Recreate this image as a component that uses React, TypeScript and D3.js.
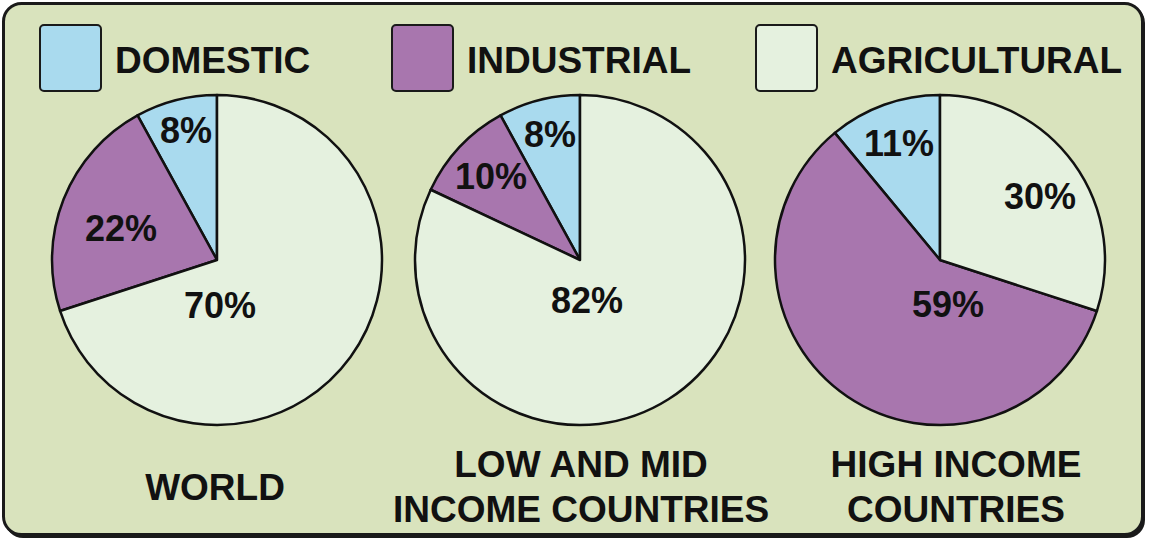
import React from "react";
import * as d3 from "d3";

const categories = ["DOMESTIC", "INDUSTRIAL", "AGRICULTURAL"];
const colors = ["#a9daee", "#a876ae", "#e5f1df"];
const pieTitles = [["WORLD"], ["LOW AND MID", "INCOME COUNTRIES"], ["HIGH INCOME", "COUNTRIES"]];
const worldValues = [8, 22, 70];
const lowMidValues = [8, 10, 82];
const highValues = [11, 59, 30];
const allValues = [worldValues, lowMidValues, highValues];

const W = 1150;
const H = 542;
const FONT = "'Liberation Sans', Arial, Helvetica, sans-serif";

// layout
const pieCenters = [
  { x: 217, y: 260 },
  { x: 580, y: 260 },
  { x: 940, y: 260 },
];
const R = 165;
const titleX = [215, 581, 956];
const legendX = [40, 392, 756];

export default function App() {
  const pie = d3
    .pie<number>()
    .sort(null)
    .startAngle(0)
    .endAngle(-2 * Math.PI)
    .value((d) => d);
  const arc = d3.arc<d3.PieArcDatum<number>>().innerRadius(0).outerRadius(R);

  // label positions per category (domestic, industrial, agricultural)
  const labelPos = [
    [
      { x: 186, y: 130 },
      { x: 121, y: 228 },
      { x: 220, y: 305 },
    ],
    [
      { x: 550, y: 134 },
      { x: 491, y: 176 },
      { x: 587, y: 300 },
    ],
    [
      { x: 899, y: 143 },
      { x: 948, y: 304 },
      { x: 1040, y: 196 },
    ],
  ];

  return (
    <svg
      width={W}
      height={H}
      style={{ position: "absolute", left: 0, top: 0, background: "#ffffff" }}
    >
      <rect x={5} y={5} width={1140} height={533} rx={18} fill="#1a1a1a" />
      <rect
        x={3.5}
        y={3.5}
        width={1139}
        height={531}
        rx={18}
        fill="#d9e3bd"
        stroke="#1a1a1a"
        strokeWidth={3}
      />
      {categories.map((c, i) => (
        <g key={c}>
          <rect
            x={legendX[i]}
            y={25}
            width={61}
            height={66}
            rx={4}
            fill={colors[i]}
            stroke="#1a1a1a"
            strokeWidth={2}
          />
          <text
            x={legendX[i] + 75}
            y={73}
            fontFamily={FONT}
            fontWeight="bold"
            fontSize={37}
            fill="#111"
          >
            {c}
          </text>
        </g>
      ))}
      {allValues.map((vals, pi) => {
        const arcs = pie(vals);
        const c = pieCenters[pi];
        return (
          <g key={pi}>
            <g transform={`translate(${c.x},${c.y})`}>
              {arcs.map((a, i) => (
                <path
                  key={i}
                  d={arc(a) || ""}
                  fill={colors[i]}
                  stroke="#111"
                  strokeWidth={2.5}
                  strokeLinejoin="round"
                />
              ))}
            </g>
            {vals.map((v, i) => (
              <text
                key={i}
                x={labelPos[pi][i].x}
                y={labelPos[pi][i].y}
                textAnchor="middle"
                dominantBaseline="central"
                fontFamily={FONT}
                fontWeight="bold"
                fontSize={36}
                fill="#111"
              >
                {v}%
              </text>
            ))}
            {pieTitles[pi].map((t, li) => (
              <text
                key={li}
                x={titleX[pi]}
                y={pieTitles[pi].length === 1 ? 500 : 477 + li * 45}
                textAnchor="middle"
                fontFamily={FONT}
                fontWeight="bold"
                fontSize={37}
                fill="#111"
              >
                {t}
              </text>
            ))}
          </g>
        );
      })}
    </svg>
  );
}
